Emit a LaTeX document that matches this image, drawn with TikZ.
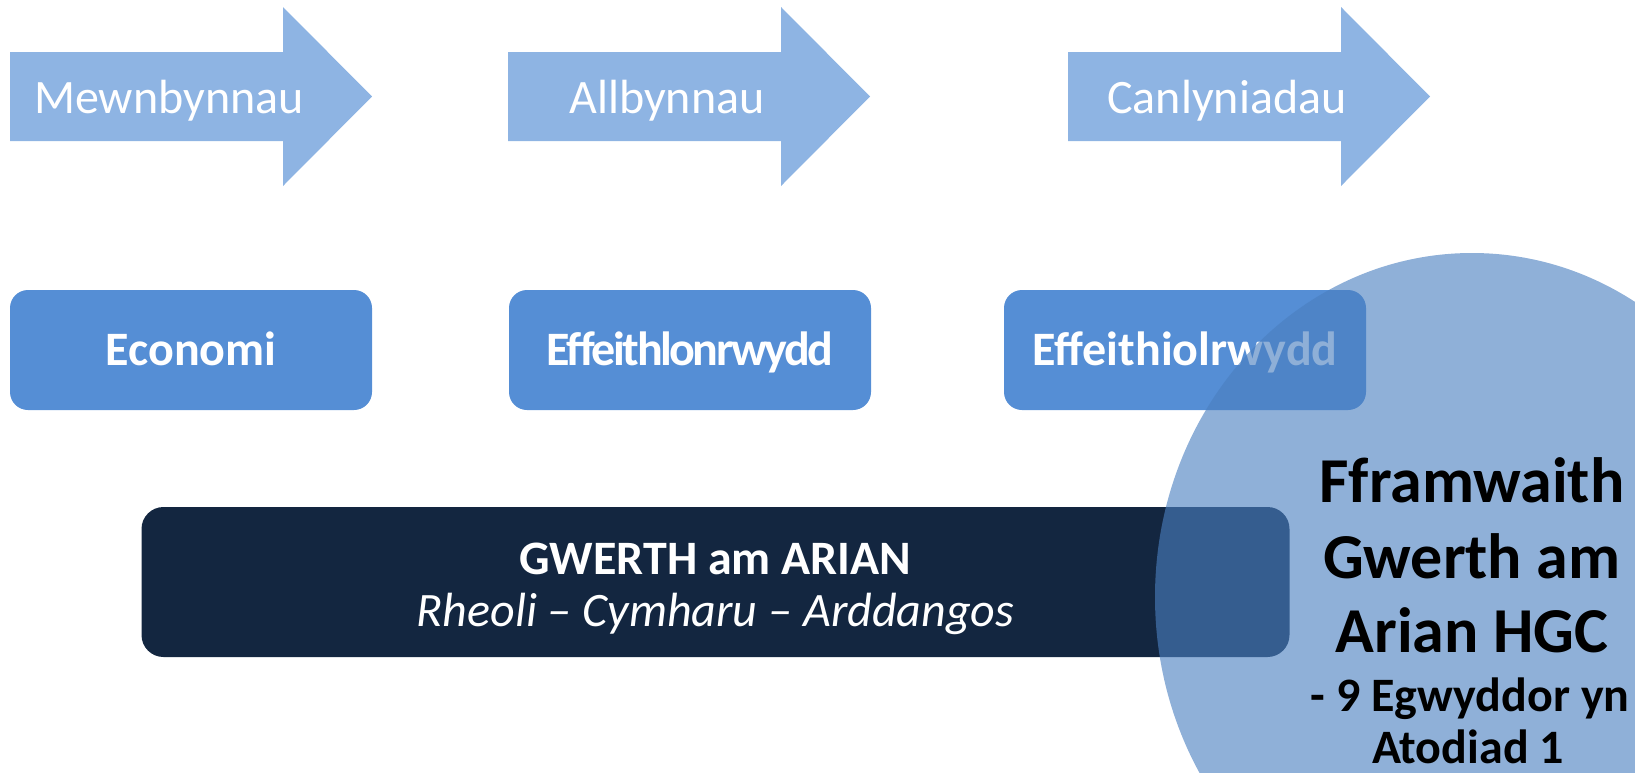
\documentclass[tikz,border=0pt]{standalone}
\usepackage{fontspec}
\setmainfont{Carlito}
\usetikzlibrary{positioning}

\definecolor{arrowblue}{HTML}{8EB4E3}
\definecolor{boxblue}{HTML}{558ED5}
\definecolor{navy}{HTML}{132640}
\definecolor{circblue}{HTML}{4A7FC0}

\begin{document}
\begin{tikzpicture}
  [x=1pt,y=-1pt,every node/.style={inner sep=0pt}]
  \tikzstyle{arrtxt}=[anchor=base,text=white,font=\fontsize{48}{56}\selectfont]
  \tikzstyle{stage}=[rounded corners=18pt,fill=boxblue,text=white,minimum width=362pt,minimum height=120pt,text height=30pt,text depth=0pt,font=\bfseries\fontsize{48}{56}\selectfont]
  \tikzstyle{vfmbox}=[rounded corners=22pt,fill=navy,minimum width=1148pt,minimum height=150pt]
  \tikzstyle{vfmtxt}=[anchor=base,text=white,font=\fontsize{48}{56}\selectfont]
  \tikzstyle{fwbig}=[anchor=base,font=\bfseries\fontsize{64}{76}\selectfont]
  \tikzstyle{fwsmall}=[anchor=base,font=\bfseries\fontsize{48}{56}\selectfont]
  \useasboundingbox (0,0) rectangle (1635,772);

  % arrows
  \foreach \x/\nm/\txt in {10/inp/Mewnbynnau,508/outp/Allbynnau,1068/outc/Canlyniadau}{
    \fill[arrowblue] (\x,52) -- ++(273,0) -- ++(0,-45) -- ++(89,89.5) -- ++(-89,89.5) -- ++(0,-45) -- ++(-273,0) -- cycle;
    \node[arrtxt] (\nm) at (\x+159,113) {\txt};
  }

  % boxes
  \node[stage] (econ) at (191,350) {Economi};
  \node[stage] (effn) at (690,350) {\addfontfeature{LetterSpace=-5.2}Effeithlonrwydd};
  \node[stage] (effv) at (1185,350) {Effeithiolrwydd};

  \node[vfmbox] (vfm) at (715.5,582) {};
  \node[vfmtxt] (vfmhead) at (715.5,574) {\textbf{GWERTH am ARIAN}};
  \node[vfmtxt] (vfmsub) at (715.5,626) {\textit{Rheoli – Cymharu – Arddangos}};

  % framework circle
  \coordinate (fw) at (1472,597);
  \fill[circblue,opacity=.62] (fw) ellipse [x radius=317pt,y radius=344pt];
  \node[fwbig] (fw1) at (1472,502) {Fframwaith};
  \node[fwbig] (fw2) at (1472,578) {Gwerth am};
  \node[fwbig] (fw3) at (1472,652) {Arian HGC};
  \node[fwsmall] (fw4) at (1470,711) {- 9 Egwyddor yn};
  \node[fwsmall] (fw5) at (1468,763) {Atodiad 1};
\end{tikzpicture}
\end{document}
